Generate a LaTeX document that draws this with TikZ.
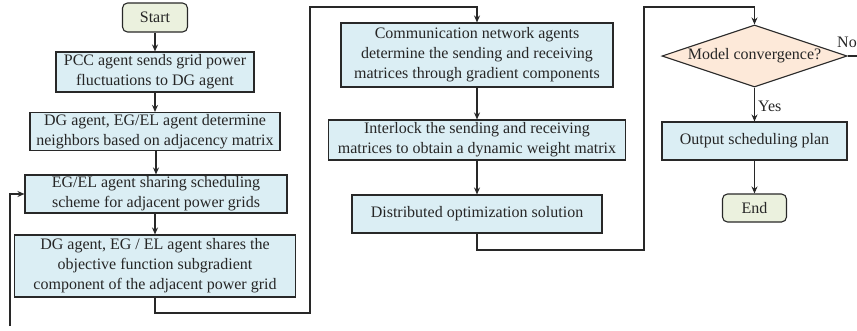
\documentclass[tikz,border=0pt]{standalone}
\usepackage{fontspec}
\setmainfont{Liberation Serif}
\usetikzlibrary{shapes.geometric,arrows.meta}
\definecolor{boxfill}{RGB}{219,238,244}
\definecolor{termfill}{RGB}{235,241,222}
\definecolor{diafill}{RGB}{253,233,217}
\definecolor{edge}{RGB}{40,40,40}
\tikzset{
  base/.style={draw=edge, line width=1.1pt, align=center, inner sep=0pt,
    font=\fontsize{16}{20}\selectfont, text=black!85},
  procbox/.style={base, fill=boxfill, rectangle},
  termbox/.style={base, fill=termfill, rectangle, rounded corners=5pt},
  decbox/.style={base, fill=diafill, diamond, aspect=3},
  conn/.style={draw=edge, line width=1.1pt},
  arr/.style={conn, -{Stealth[length=7pt,width=6pt]}},
  lbl/.style={font=\fontsize{16}{20}\selectfont, text=black!85, inner sep=0pt}
}
\begin{document}
\begin{tikzpicture}[x=1pt,y=-1pt]
\useasboundingbox (0,0) rectangle (857,330);
% left column
\node[termbox, minimum width=65pt, minimum height=29pt] (start) at (155,17.5) {Start};
\node[procbox, minimum width=198pt, minimum height=40pt] (pcc) at (155,72) {PCC agent sends grid power\\fluctuations to DG agent};
\node[procbox, minimum width=250pt, minimum height=38pt] (dg1) at (155,131.5) {DG agent, EG/EL agent determine\\neighbors based on adjacency matrix};
\node[procbox, minimum width=262pt, minimum height=38pt] (eg) at (156,194) {EG/EL agent sharing scheduling\\scheme for adjacent power grids};
\node[procbox, minimum width=281pt, minimum height=62pt] (dg2) at (155,266) {DG agent, EG / EL agent shares the\\objective function subgradient\\component of the adjacent power grid};
% middle column
\node[procbox, minimum width=272pt, minimum height=64pt] (comm) at (477,55) {Communication network agents\\determine the sending and receiving\\matrices through gradient components};
\node[procbox, minimum width=297pt, minimum height=40pt] (inter) at (477,140) {Interlock the sending and receiving\\matrices to obtain a dynamic weight matrix};
\node[procbox, minimum width=250pt, minimum height=38pt] (dist) at (477,214) {Distributed optimization solution};
% right column
\node[decbox, minimum width=185pt, minimum height=62pt] (dia) at (754.5,56) {Model convergence?};
\node[procbox, minimum width=185pt, minimum height=38pt] (out) at (754.5,141) {Output scheduling plan};
\node[termbox, minimum width=64pt, minimum height=28pt] (end) at (754.5,208) {End};
% helper coordinates
\coordinate (c1) at (310,313);
\coordinate (c2) at (310,7);
\coordinate (c3) at (644,250);
\coordinate (c4) at (644,7);
\coordinate (noend) at (860,56);
\coordinate (loop0) at (10,326);
% connectors
\draw[arr] (start) -- (pcc);
\draw[arr] (pcc) -- (dg1);
\draw[arr] (dg1.south -| eg.north) -- (eg.north);
\draw[arr] (eg.south -| dg2.north) -- (dg2.north);
\draw[arr] (dg2.south) |- (c1) -- (c2) -| (comm.north);
\draw[arr] (comm) -- (inter);
\draw[arr] (inter) -- (dist);
\draw[arr] (dist.south) |- (c3) -- (c4) -| (dia.north);
\draw[arr] (dia.south) -- node[lbl, right=3pt, pos=0.55] (yes) {Yes} (out.north);
\draw[arr] (out) -- (end);
\draw[conn] (dia.east) -- (noend);
\node[lbl, anchor=west] (no) at (837,42) {No};
\draw[arr] (loop0) |- (eg.west);
\end{tikzpicture}
\end{document}
